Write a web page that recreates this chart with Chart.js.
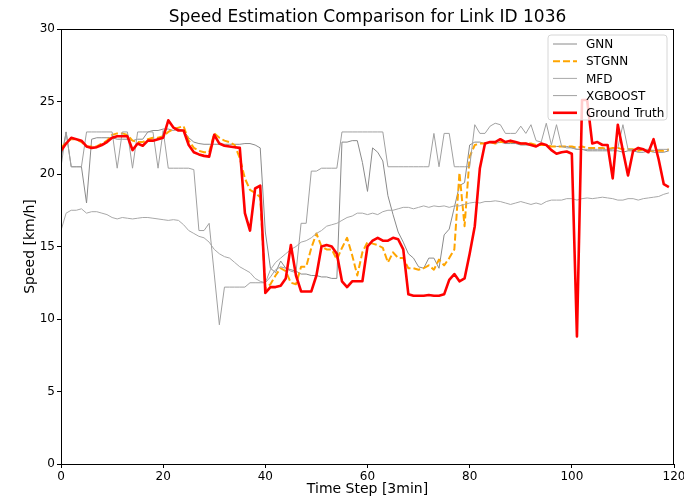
<!DOCTYPE html>
<html>
<head>
<meta charset="utf-8">
<script src="https://cdn.jsdelivr.net/npm/chart.js@4/dist/chart.umd.min.js"></script>
<style>
  html, body { margin: 0; padding: 0; background: #fff; }
  #wrap { width: 684px; height: 499px; position: relative; }
</style>
</head>
<body>
<div id="wrap"><canvas id="speed-chart"></canvas></div>
<script>
// time steps 0..119 (3 min each)
const timeSteps = Array.from({ length: 120 }, (_, i) => i);

const groundTruth = [
    21.6, 22.1, 22.5, 22.4, 22.3, 21.9, 21.8, 21.85, 22.0, 22.2,
    22.5, 22.6, 22.6, 22.6, 21.65, 22.1, 21.95, 22.3, 22.3, 22.4,
    22.5, 23.7, 23.2, 23.0, 23.0, 22.0, 21.5, 21.35, 21.25, 21.2,
    22.7, 22.1, 21.95, 21.9, 21.85, 21.8, 17.3, 16.1, 19.0, 19.2,
    11.8, 12.2, 12.2, 12.3, 12.8, 15.1, 13.0, 11.9, 11.9, 11.9,
    13.0, 15.0, 15.1, 15.0, 14.5, 12.6, 12.2, 12.6, 12.6, 12.6,
    15.0, 15.4, 15.6, 15.4, 15.4, 15.6, 15.5, 14.8, 11.7, 11.6,
    11.6, 11.6, 11.65, 11.6, 11.6, 11.7, 12.7, 13.1, 12.6, 12.8,
    14.5, 16.4, 20.4, 22.1, 22.2, 22.2, 22.4, 22.2, 22.3, 22.2,
    22.1, 22.1, 22.0, 21.9, 22.1, 22.0, 21.65, 21.4, 21.5, 21.55,
    21.4, 8.8, 25.1, 25.1, 22.1, 22.2, 22.0, 22.0, 19.7, 23.4,
    21.6, 19.9, 21.6, 21.8, 21.7, 21.5, 22.4, 21.0, 19.3, 19.1
];

const stgnn = [
    21.8, 22.2, 22.4, 22.4, 22.2, 21.9, 21.9, 21.9, 22.1, 22.3,
    22.7, 22.8, 22.8, 22.7, 22.3, 22.2, 22.2, 22.4, 22.5, 22.5,
    22.6, 22.9, 23.1, 23.2, 23.3, 22.3, 21.8, 21.6, 21.5, 21.5,
    22.8, 22.5, 22.3, 22.2, 22.0, 21.1, 19.7, 18.9, 18.7, 18.4,
    12.1, 12.4, 13.0, 13.5, 13.3, 12.5, 12.4, 13.6, 13.6, 14.9,
    15.9, 15.0, 14.8, 14.8, 14.1, 14.9, 15.6, 14.4, 13.0, 14.6,
    15.3, 15.2, 15.1, 14.9, 13.9, 14.6, 14.2, 14.2, 13.5, 13.5,
    13.4, 13.5, 13.7, 13.4, 14.1, 13.7, 14.2, 14.8, 20.1, 16.4,
    21.2, 22.0, 22.1, 22.1, 22.2, 22.1, 22.2, 22.2, 22.2, 22.2,
    22.1, 22.1, 22.1, 22.0, 22.0, 22.0, 21.9, 21.9, 21.9, 21.9,
    21.9, 21.8, 21.9, 21.8, 21.8, 21.8, 21.8, 21.7, 21.8, 21.8,
    21.7, 21.7, 21.7, 21.6, 21.7, 21.6, 21.6, 21.6, 21.6, 21.7
];

const gnn = [
    21.0, 22.9, 20.5, 20.5, 20.5, 18.0, 22.4, 22.5, 22.5, 22.5,
    22.5, 22.4, 22.4, 22.4, 22.3, 22.4, 22.4, 22.9, 23.0, 23.0,
    23.1, 23.1, 23.0, 23.1, 23.0, 22.5, 22.2, 22.1, 22.05, 22.05,
    22.05, 22.05, 22.05, 22.05, 22.05, 22.05, 22.1, 22.1, 22.0, 21.8,
    16.0, 13.5, 13.2, 14.0, 13.5, 13.4, 13.3, 13.1, 13.1, 13.0,
    13.0, 12.9, 12.9, 12.8, 12.8, 22.2, 22.2, 22.3, 22.3, 20.8,
    18.8, 21.8, 21.5, 20.9, 18.5, 17.2, 16.0, 15.3, 14.5, 14.2,
    13.6, 13.5, 14.2, 14.2, 13.5, 15.8, 16.2, 17.7, 19.2, 19.4,
    22.0, 22.2, 22.2, 22.1, 22.2, 22.1, 22.2, 22.1, 22.1, 22.1,
    22.0, 22.0, 22.0, 21.9, 22.0, 22.0, 21.9, 21.9, 21.9, 21.9,
    21.8, 21.7, 21.7, 21.6, 21.6, 21.6, 21.6, 21.6, 21.6, 21.6,
    21.5, 21.6, 21.6, 21.5, 21.5, 21.6, 21.5, 21.5, 21.5, 21.6
];

const mfd = [
    16.1, 17.3, 17.5, 17.5, 17.6, 17.3, 17.4, 17.4, 17.3, 17.2,
    17.0, 16.9, 17.0, 16.95, 16.9, 16.95, 17.0, 17.0, 16.95, 16.9,
    16.85, 16.8, 16.85, 16.8, 16.5, 16.1, 15.9, 15.7, 15.6, 15.3,
    14.8, 14.5, 14.3, 14.2, 13.9, 13.6, 13.4, 13.2, 12.8, 12.6,
    12.5, 13.4, 13.9, 14.2, 14.5, 14.8, 15.0, 15.3, 15.4, 15.6,
    15.9, 16.1, 16.4, 16.5, 16.6, 16.8, 17.0, 17.1, 17.3, 17.3,
    17.2, 17.3, 17.2, 17.4, 17.5, 17.5, 17.6, 17.7, 17.7, 17.6,
    17.7, 17.8, 17.7, 17.8, 17.75, 17.8, 17.7, 17.8, 17.8, 17.9,
    18.0, 18.05, 18.0, 18.1, 18.1, 18.15, 18.1, 18.0, 17.9, 18.0,
    18.1, 18.0, 17.9, 18.0, 17.9, 18.1, 18.2, 18.2, 18.2, 18.3,
    18.3, 18.2, 18.3, 18.35, 18.3, 18.35, 18.4, 18.35, 18.3, 18.2,
    18.2, 18.3, 18.3, 18.2, 18.3, 18.35, 18.4, 18.45, 18.6, 18.7
];

const xgboost = [
    20.5, 22.9, 20.5, 20.5, 20.5, 22.9, 22.9, 22.9, 22.9, 22.9,
    22.9, 20.4, 22.9, 22.9, 20.4, 22.9, 22.9, 22.9, 22.9, 20.4,
    23.0, 20.4, 20.4, 20.4, 20.4, 20.4, 20.3, 16.1, 16.1, 16.6,
    13.1, 9.6, 12.2, 12.2, 12.2, 12.2, 12.2, 12.5, 12.5, 12.5,
    12.5, 12.9, 13.4, 13.6, 13.5, 13.3, 13.2, 16.6, 16.6, 20.2,
    20.2, 20.4, 20.4, 20.4, 20.4, 22.9, 22.9, 22.9, 22.9, 22.9,
    22.9, 22.9, 22.9, 22.9, 20.5, 20.5, 20.5, 20.5, 20.5, 20.5,
    20.5, 20.5, 20.5, 22.8, 20.5, 22.8, 22.8, 20.5, 20.5, 20.5,
    20.5, 23.4, 22.8, 22.8, 23.3, 23.5, 23.4, 22.8, 22.8, 22.8,
    23.3, 22.8, 23.4, 22.3, 22.2, 23.5, 22.0, 23.4, 21.9, 21.8,
    21.8, 21.7, 21.7, 21.7, 21.7, 21.7, 21.7, 21.7, 21.7, 21.8,
    23.4, 21.7, 21.7, 21.7, 21.7, 21.7, 21.6, 21.7, 21.7, 21.7
];

const xTicks = [0, 20, 40, 60, 80, 100, 120];
const yTicks = [0, 5, 10, 15, 20, 25, 30];

const FONT = 'DejaVu Sans';

function toPoints(values) {
    return values.map((v, i) => ({ x: timeSteps[i], y: v }));
}

function lineSet(label, values, color, width, order, dash) {
    return {
        label: label,
        data: toPoints(values),
        borderColor: color,
        backgroundColor: color,
        borderWidth: width,
        borderDash: dash || [],
        pointRadius: 0,
        pointHoverRadius: 0,
        tension: 0,
        fill: false,
        borderJoinStyle: 'round',
        order: order
    };
}

// matplotlib-ish frame, title, axis labels and legend
const decorPlugin = {
    id: 'decor',
    afterDraw(chart) {
        const ctx = chart.ctx;
        const a = chart.chartArea;
        ctx.save();

        ctx.strokeStyle = '#000';
        ctx.lineWidth = 1;
        ctx.strokeRect(a.left + 0.5, a.top + 0.5, a.right - a.left - 1, a.bottom - a.top);

        ctx.fillStyle = '#000';
        ctx.textAlign = 'center';
        ctx.textBaseline = 'middle';
        ctx.font = '17px "' + FONT + '"';
        ctx.fillText('Speed Estimation Comparison for Link ID 1036', (a.left + a.right) / 2, 18);

        ctx.font = '14px "' + FONT + '"';
        ctx.fillText('Time Step [3min]', (a.left + a.right) / 2, 489);

        ctx.save();
        ctx.translate(30, (a.top + a.bottom) / 2);
        ctx.rotate(-Math.PI / 2);
        ctx.fillText('Speed [km/h]', 0, 0);
        ctx.restore();

        // legend box
        const bx = 548, by = 35, bw = 119, bh = 85, r = 3;
        ctx.beginPath();
        ctx.moveTo(bx + r, by);
        ctx.arcTo(bx + bw, by, bx + bw, by + bh, r);
        ctx.arcTo(bx + bw, by + bh, bx, by + bh, r);
        ctx.arcTo(bx, by + bh, bx, by, r);
        ctx.arcTo(bx, by, bx + bw, by, r);
        ctx.closePath();
        ctx.fillStyle = 'rgba(255,255,255,0.8)';
        ctx.fill();
        ctx.strokeStyle = '#d6d6d6';
        ctx.lineWidth = 1;
        ctx.stroke();

        const entries = chart.data.datasets;
        ctx.font = '12px "' + FONT + '"';
        ctx.textAlign = 'left';
        entries.forEach((ds, i) => {
            const y = 44 + i * 17.2;
            ctx.beginPath();
            ctx.strokeStyle = ds.borderColor;
            ctx.lineWidth = ds.borderWidth;
            ctx.setLineDash(ds.borderDash || []);
            ctx.moveTo(553, y);
            ctx.lineTo(577, y);
            ctx.stroke();
            ctx.setLineDash([]);
            ctx.fillStyle = '#000';
            ctx.fillText(ds.label, 586, y + 1);
        });

        ctx.restore();
    }
};

const chart = new Chart(document.getElementById('speed-chart'), {
    type: 'line',
    data: {
        datasets: [
            lineSet('GNN', gnn, '#8a8a8a', 1, 5),
            lineSet('STGNN', stgnn, '#ffa500', 2, 4, [7, 3]),
            lineSet('MFD', mfd, '#a8a8a8', 1, 3),
            lineSet('XGBOOST', xgboost, '#a0a0a0', 1, 2),
            lineSet('Ground Truth', groundTruth, '#ff0000', 2.6, 1)
        ]
    },
    options: {
        responsive: true,
        maintainAspectRatio: false,
        animation: false,
        layout: { padding: { top: 29, right: 10, left: 0, bottom: 0 } },
        plugins: {
            legend: { display: false },
            title: { display: false },
            tooltip: { enabled: false }
        },
        scales: {
            x: {
                type: 'linear',
                min: 0,
                max: 120,
                afterBuildTicks: (s) => { s.ticks = xTicks.map(v => ({ value: v })); },
                afterFit: (s) => { s.height = 35; s.paddingRight = 0; s.paddingLeft = 0; },
                ticks: { color: '#000', padding: 2, maxRotation: 0, font: { family: FONT, size: 12 } },
                grid: { display: true, drawOnChartArea: false, drawTicks: true, tickLength: 4, color: '#000' },
                border: { display: true, color: '#000' }
            },
            y: {
                min: 0,
                max: 30,
                afterBuildTicks: (s) => { s.ticks = yTicks.map(v => ({ value: v })); },
                afterFit: (s) => { s.width = 61; s.paddingTop = 0; s.paddingBottom = 0; },
                ticks: { color: '#000', padding: 2, font: { family: FONT, size: 12 } },
                grid: { display: true, drawOnChartArea: false, drawTicks: true, tickLength: 4, color: '#000' },
                border: { display: true, color: '#000' }
            }
        }
    },
    plugins: [decorPlugin]
});
</script>
</body>
</html>
